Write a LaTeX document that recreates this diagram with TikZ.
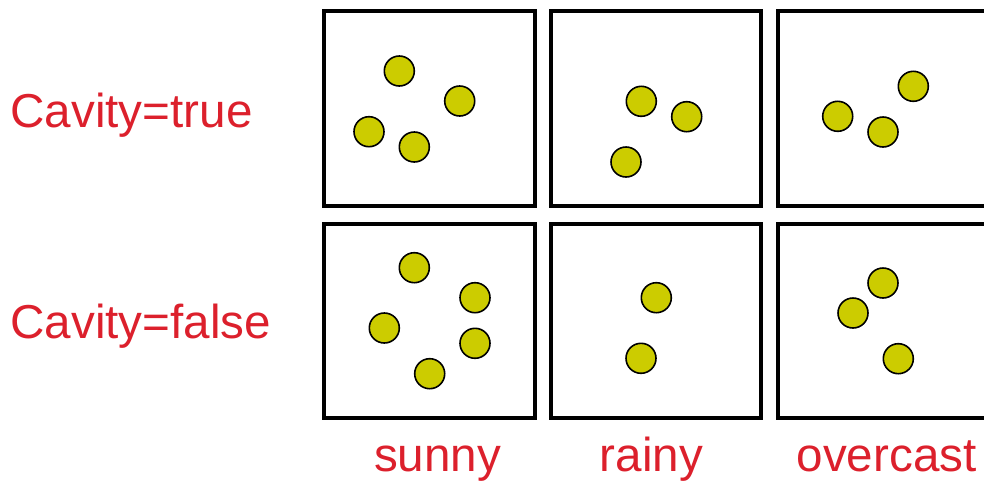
\documentclass[tikz,border=0pt]{standalone}
\usepackage{fontspec}
\setmainfont{Liberation Sans}
\definecolor{labelred}{RGB}{220,32,44}
\definecolor{ballfill}{RGB}{204,204,0}
\begin{document}
\begin{tikzpicture}[x=1pt,y=-1pt,
  cell/.style={draw=black,line width=4pt,fill=white},
  ball/.style={circle,draw=black,line width=1.6pt,fill=ballfill,minimum size=30pt,inner sep=0pt},
  lbl/.style={anchor=base west,inner sep=0pt,text=labelred,font=\fontsize{47.6}{50}\selectfont}]
\useasboundingbox (0,0) rectangle (984,482);
\clip (0,0) rectangle (984,482);

% grid of cells: weather columns, cavity rows
\draw[cell] (324,11.3) rectangle (535,206.3);
\draw[cell] (551.3,11.3) rectangle (761.3,206.3);
\draw[cell] (778,11.3) rectangle (989,206.3);
\draw[cell] (324,223.7) rectangle (535,418);
\draw[cell] (551.3,223.7) rectangle (761.3,418);
\draw[cell] (778,223.7) rectangle (989,418);

% Cavity=true, sunny
\node[ball] (t1a) at (399.3,71) {};
\node[ball] (t1b) at (459.7,101) {};
\node[ball] (t1c) at (369,131.7) {};
\node[ball] (t1d) at (414.3,147) {};
% Cavity=true, rainy
\node[ball] (t2a) at (641.3,101.3) {};
\node[ball] (t2b) at (686.7,116.7) {};
\node[ball] (t2c) at (626,162) {};
% Cavity=true, overcast
\node[ball] (t3a) at (913.3,86.3) {};
\node[ball] (t3b) at (837.7,116.3) {};
\node[ball] (t3c) at (883,132) {};

% Cavity=false, sunny
\node[ball] (f1a) at (414.3,267.7) {};
\node[ball] (f1b) at (475,297.7) {};
\node[ball] (f1c) at (384.3,328) {};
\node[ball] (f1d) at (475,343.3) {};
\node[ball] (f1e) at (429.7,373.7) {};
% Cavity=false, rainy
\node[ball] (f2a) at (656.3,297.7) {};
\node[ball] (f2b) at (641,358.3) {};
% Cavity=false, overcast
\node[ball] (f3a) at (883,283) {};
\node[ball] (f3b) at (853,313) {};
\node[ball] (f3c) at (898.3,358.7) {};

% row and column labels
\node[lbl] (rowtrue) at (10.3,127) {Cavity=true};
\node[lbl] (rowfalse) at (10.3,338.3) {Cavity=false};
\node[lbl] (colsunny) at (373.8,471.7) {sunny};
\node[lbl] (colrainy) at (599.5,471.7) {rainy};
\node[lbl] (colovercast) at (796.5,471.7) {overcast};
\end{tikzpicture}
\end{document}
